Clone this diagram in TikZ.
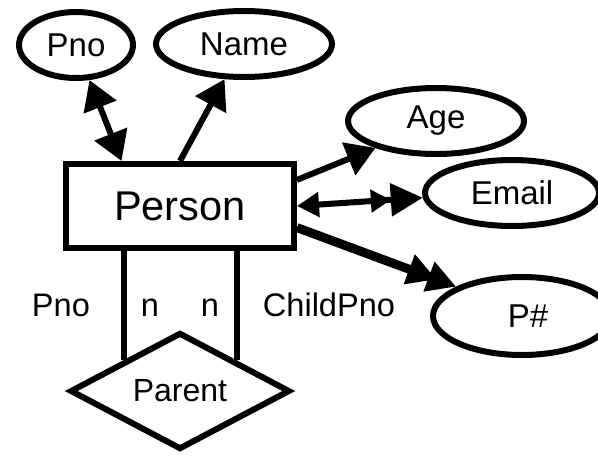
\documentclass[tikz,border=0pt]{standalone}
\usepackage{fontspec}
\setmainfont{Liberation Sans}
\usetikzlibrary{shapes.geometric,arrows.meta,calc}
\tikzset{
  attr/.style={draw, ellipse, line width=3pt, inner sep=0pt, font=\fontsize{16.5pt}{19pt}\selectfont},
  entity/.style={draw, rectangle, line width=3pt, inner sep=0pt, minimum width=114pt, minimum height=42pt, font=\fontsize{20.8pt}{24pt}\selectfont},
  rel/.style={draw, diamond, line width=3pt, inner sep=0pt, minimum width=110pt, minimum height=58.5pt, font=\fontsize{16pt}{19pt}\selectfont},
  lbl/.style={anchor=base, inner sep=0pt, font=\fontsize{16.3pt}{19pt}\selectfont},
  link/.style={line width=3pt}
}
\begin{document}
\begin{tikzpicture}[x=0.5pt, y=-0.5pt, >={Triangle[length=14.5pt,width=17pt]}]
    \useasboundingbox (0,0) rectangle (598,455);
    \node[entity] (person) at (180,206) {Person};
    \node[attr, minimum width=57pt, minimum height=33pt] (pno) at (76,45) {Pno};
    \node[attr, minimum width=88pt, minimum height=33pt] (name) at (244,44) {Name};
    \node[attr, minimum width=88pt, minimum height=33pt] (age) at (436,121) {Age};
    \node[attr, minimum width=87pt, minimum height=33pt] (email) at (512,193) {Email};
    \node[attr, minimum width=89pt, minimum height=39pt] (pnum) at (522,316) {\hspace{6pt}P\#};
    \node[rel] (parent) at (180,391) {Parent};

    \draw[link, <->] (pno.-69) -- ($(person.north west)!0.25!(person.north east)$);
    \draw[link, ->] (person.north) -- (name.-119);
    \draw[link, ->] ($(person.north east)!0.21!(person.south east)$) -- (age.204);
    \draw[link, {Triangle[length=11pt,width=12pt]}-{Triangle[length=10pt,width=11pt] Triangle[length=16pt,width=16pt]}]
        (person.east) -- (email.183);
    \draw[line width=4.5pt, -{Triangle[length=14.5pt,width=15pt,sep=-4pt] Triangle[length=14.5pt,width=15pt]}]
        ($(person.north east)!0.74!(person.south east)$) -- (pnum.156);

    \draw[link] (parent.north west |- person.south) -- (parent.north west);
    \draw[link] (parent.north east |- person.south) -- (parent.north east);

    \node[lbl] (lpno) at (61,316) {Pno};
    \node[lbl] (n1) at (150,316) {n};
    \node[lbl] (n2) at (210,316) {n};
    \node[lbl] (lchild) at (329,316) {ChildPno};
\end{tikzpicture}
\end{document}
